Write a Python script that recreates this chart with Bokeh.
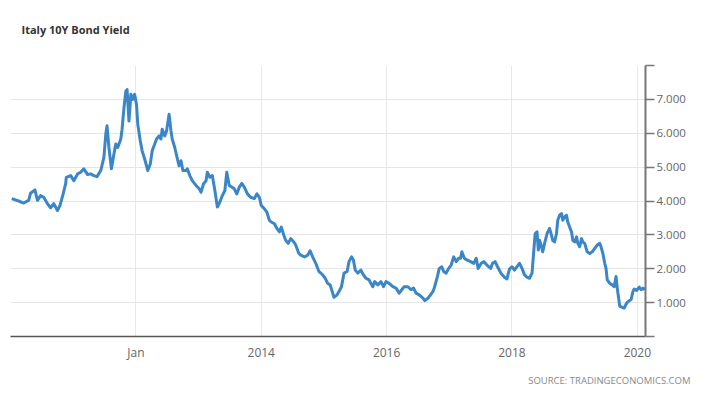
from bokeh.plotting import figure
from bokeh.models import Range1d, FixedTicker, Title
from bokeh.embed import file_html
from bokeh.resources import INLINE

# decimal years and yields (%)
year = [2010.02, 2010.13, 2010.21, 2010.29, 2010.32, 2010.39, 2010.43, 2010.48, 2010.53, 2010.59,
        2010.64, 2010.69, 2010.75, 2010.79, 2010.84, 2010.88, 2010.89, 2010.96, 2011.01, 2011.07,
        2011.12, 2011.17, 2011.23, 2011.28, 2011.33, 2011.38, 2011.44, 2011.49, 2011.52, 2011.54,
        2011.57, 2011.61, 2011.65, 2011.68, 2011.71, 2011.76, 2011.78, 2011.81, 2011.84, 2011.86,
        2011.89, 2011.92, 2011.95, 2011.98, 2012.01, 2012.03, 2012.07, 2012.10, 2012.14, 2012.17,
        2012.19, 2012.23, 2012.26, 2012.29, 2012.33, 2012.37, 2012.40, 2012.42, 2012.46, 2012.49,
        2012.53, 2012.56, 2012.58, 2012.62, 2012.65, 2012.69, 2012.72, 2012.75, 2012.80, 2012.82,
        2012.86, 2012.90, 2012.96, 2013.01, 2013.04, 2013.08, 2013.12, 2013.14, 2013.18, 2013.22,
        2013.26, 2013.30, 2013.34, 2013.38, 2013.42, 2013.45, 2013.49, 2013.53, 2013.57, 2013.61,
        2013.65, 2013.69, 2013.73, 2013.78, 2013.83, 2013.89, 2013.93, 2013.97, 2014.00, 2014.05,
        2014.09, 2014.13, 2014.16, 2014.21, 2014.25, 2014.29, 2014.32, 2014.36, 2014.39, 2014.43,
        2014.47, 2014.52, 2014.55, 2014.60, 2014.63, 2014.69, 2014.74, 2014.78, 2014.82, 2014.87,
        2014.92, 2014.98, 2015.02, 2015.06, 2015.10, 2015.14, 2015.16, 2015.21, 2015.24, 2015.28,
        2015.32, 2015.37, 2015.40, 2015.44, 2015.47, 2015.50, 2015.54, 2015.59, 2015.63, 2015.67,
        2015.72, 2015.78, 2015.81, 2015.86, 2015.91, 2015.95, 2015.99, 2016.04, 2016.10, 2016.15,
        2016.20, 2016.23, 2016.28, 2016.34, 2016.39, 2016.43, 2016.47, 2016.52, 2016.58, 2016.61,
        2016.66, 2016.70, 2016.74, 2016.76, 2016.81, 2016.84, 2016.88, 2016.91, 2016.95, 2016.99,
        2017.03, 2017.07, 2017.11, 2017.15, 2017.18, 2017.20, 2017.24, 2017.28, 2017.34, 2017.39,
        2017.43, 2017.46, 2017.51, 2017.55, 2017.60, 2017.66, 2017.69, 2017.73, 2017.77, 2017.83,
        2017.88, 2017.92, 2017.96, 2018.00, 2018.04, 2018.08, 2018.12, 2018.16, 2018.20, 2018.24,
        2018.28, 2018.32, 2018.34, 2018.37, 2018.40, 2018.42, 2018.44, 2018.47, 2018.49, 2018.52,
        2018.56, 2018.60, 2018.63, 2018.65, 2018.68, 2018.71, 2018.73, 2018.76, 2018.79, 2018.81,
        2018.84, 2018.87, 2018.89, 2018.92, 2018.95, 2018.97, 2019.00, 2019.03, 2019.05, 2019.08,
        2019.11, 2019.13, 2019.16, 2019.20, 2019.24, 2019.28, 2019.32, 2019.36, 2019.40, 2019.42,
        2019.45, 2019.48, 2019.50, 2019.52, 2019.56, 2019.60, 2019.63, 2019.66, 2019.68, 2019.69,
        2019.72, 2019.75, 2019.79, 2019.83, 2019.86, 2019.90, 2019.93, 2019.95, 2019.99, 2020.03,
        2020.06, 2020.09, 2020.12]

yield_pct = [4.07, 4.00, 3.94, 4.02, 4.23, 4.33, 4.02, 4.16, 4.11, 3.92,
             3.80, 3.92, 3.72, 3.87, 4.21, 4.51, 4.70, 4.75, 4.60, 4.80,
             4.85, 4.95, 4.78, 4.80, 4.75, 4.72, 4.90, 5.29, 5.97, 6.22,
             5.58, 4.95, 5.39, 5.68, 5.58, 5.83, 6.12, 6.75, 7.24, 7.29,
             6.36, 7.15, 7.00, 7.15, 6.85, 6.27, 5.78, 5.48, 5.24, 5.04,
             4.90, 5.09, 5.48, 5.63, 5.83, 5.92, 5.83, 6.12, 5.92, 6.07,
             6.56, 6.07, 5.83, 5.58, 5.34, 5.04, 5.19, 4.90, 4.90, 4.95,
             4.75, 4.60, 4.46, 4.36, 4.26, 4.51, 4.60, 4.85, 4.70, 4.75,
             4.31, 3.82, 3.97, 4.16, 4.31, 4.85, 4.46, 4.41, 4.36, 4.21,
             4.41, 4.52, 4.41, 4.21, 4.11, 4.07, 4.21, 4.11, 3.87, 3.77,
             3.67, 3.43, 3.38, 3.33, 3.19, 3.09, 3.23, 2.99, 2.84, 2.75,
             2.89, 2.79, 2.70, 2.45, 2.40, 2.35, 2.40, 2.53, 2.35, 2.16,
             1.92, 1.82, 1.72, 1.57, 1.52, 1.28, 1.16, 1.23, 1.33, 1.47,
             1.87, 1.92, 2.21, 2.35, 2.26, 1.96, 1.87, 1.96, 1.82, 1.72,
             1.67, 1.47, 1.62, 1.52, 1.62, 1.47, 1.62, 1.57, 1.47, 1.43,
             1.28, 1.35, 1.47, 1.47, 1.38, 1.43, 1.28, 1.23, 1.13, 1.06,
             1.13, 1.23, 1.33, 1.43, 1.77, 2.01, 2.06, 1.92, 1.87, 2.01,
             2.11, 2.35, 2.21, 2.31, 2.31, 2.50, 2.31, 2.26, 2.21, 2.16,
             2.31, 2.01, 2.16, 2.21, 2.11, 2.01, 2.16, 2.21, 2.06, 1.85,
             1.75, 1.70, 1.99, 2.06, 1.96, 2.06, 2.16, 2.01, 1.82, 1.75,
             1.72, 1.87, 2.35, 3.04, 3.09, 2.55, 2.84, 2.65, 2.50, 2.75,
             3.04, 3.19, 2.99, 2.84, 2.79, 3.04, 3.43, 3.58, 3.63, 3.43,
             3.53, 3.58, 3.38, 3.23, 3.09, 2.84, 2.79, 2.94, 2.75, 2.65,
             2.89, 2.79, 2.75, 2.50, 2.45, 2.50, 2.60, 2.70, 2.75, 2.65,
             2.45, 2.16, 2.01, 1.67, 1.57, 1.52, 1.47, 1.77, 1.43, 1.28,
             0.89, 0.87, 0.84, 0.99, 1.04, 1.09, 1.33, 1.40, 1.36, 1.46,
             1.38, 1.43, 1.38]

x_ticks = [2012, 2014, 2016, 2018, 2020]
x_tick_labels = ["Jan", "2014", "2016", "2018", "2020"]
y_ticks = [0, 1, 2, 3, 4, 5, 6, 7, 8]
y_tick_labels = ["", "1.000", "2.000", "3.000", "4.000", "5.000", "6.000", "7.000", ""]

p = figure(width=700, height=394, output_backend="svg", toolbar_location=None,
           x_range=Range1d(2010.0, 2020.13), y_range=Range1d(0, 8),
           y_axis_location="right",
           min_border_left=10, min_border_right=55, min_border_top=65, min_border_bottom=57)
p.outline_line_color = None
p.background_fill_color = "white"
p.border_fill_color = "white"

p.line(year, yield_pct, line_color="#3a86c8", line_width=3, line_join="round")

# spacer (nearest the frame), then the title above it, and the source below
p.add_layout(Title(text=" ", text_font_size="2px", standoff=20), "above")
p.add_layout(Title(text="Italy 10Y Bond Yield", text_font="Open Sans", text_font_size="11px",
                   text_font_style="bold", text_color="#333333", align="left",
                   offset=11, standoff=10), "above")
p.add_layout(Title(text="SOURCE: TRADINGECONOMICS.COM", text_font="Open Sans",
                   text_font_size="9.5px", text_font_style="normal", text_color="#8a8a8a",
                   align="right", offset=-45, standoff=16), "below")

# x axis
xa = p.xaxis[0]
xa.ticker = FixedTicker(ticks=x_ticks)
xa.major_label_overrides = {t: s for t, s in zip(x_ticks, x_tick_labels)}
xa.axis_line_color = "#555555"
xa.axis_line_width = 1.5
xa.major_tick_line_color = None
xa.minor_tick_line_color = None
xa.major_label_text_font = "Open Sans"
xa.major_label_text_font_size = "12px"
xa.major_label_text_color = "#666666"
xa.major_label_standoff = 1

# y axis (right)
ya = p.yaxis[0]
ya.ticker = FixedTicker(ticks=y_ticks)
ya.major_label_overrides = {t: s for t, s in zip(y_ticks, y_tick_labels)}
ya.axis_line_color = "#777777"
ya.axis_line_width = 2
ya.major_tick_line_color = "#777777"
ya.major_tick_line_width = 1.5
ya.major_tick_in = 0
ya.major_tick_out = 9
ya.minor_tick_line_color = None
ya.major_label_text_font = "Open Sans"
ya.major_label_text_font_size = "11.5px"
ya.major_label_text_color = "#666666"
ya.major_label_standoff = 2

p.xgrid.grid_line_color = "#e8e8e8"
p.ygrid.grid_line_color = "#e6e6e6"

open("out.html", "w").write(file_html(p, INLINE))
